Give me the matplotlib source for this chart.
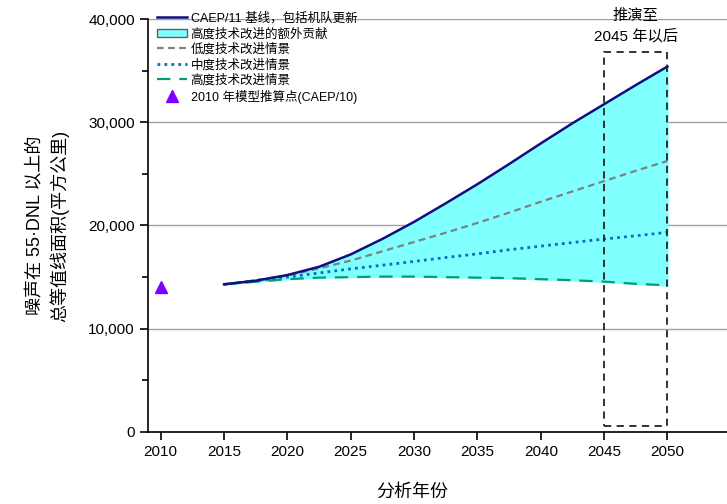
import matplotlib.pyplot as plt
from matplotlib.lines import Line2D
from matplotlib.patches import Patch, Rectangle
from matplotlib.ticker import MultipleLocator, FuncFormatter

plt.rcParams['font.family'] = ['Liberation Sans', 'Noto Sans CJK SC', 'DejaVu Sans']

# values (km^2), every 2.5 years
years = [2015, 2017.5, 2020, 2022.5, 2025, 2027.5, 2030, 2032.5,
         2035, 2037.5, 2040, 2042.5, 2045, 2047.5, 2050]
baseline = [14300, 14650, 15200, 16000, 17200, 18700, 20350, 22150,
            24000, 25950, 27950, 29900, 31750, 33600, 35400]
low_tech = [14300, 14700, 15150, 15850, 16600, 17500, 18400, 19300,
            20250, 21250, 22300, 23300, 24300, 25300, 26250]
mid_tech = [14300, 14650, 15000, 15400, 15800, 16150, 16520, 16900,
            17250, 17650, 18000, 18350, 18690, 19000, 19340]
high_tech = [14300, 14550, 14800, 14950, 15000, 15050, 15050, 15000,
             14950, 14900, 14800, 14700, 14560, 14350, 14200]
point_year = [2010]
point_value = [14000]

fig = plt.figure(figsize=(7.27, 5.04), dpi=100)
ax = fig.add_axes([0.2036, 0.1429, 0.7964, 0.8194])

ax.fill_between(years, high_tech, baseline, color='#80FFFF', zorder=1)
ax.plot(years, baseline, color='#10107f', lw=1.8, zorder=4)
ax.plot(years, low_tech, color='#808080', lw=1.6, ls=(0, (3, 2)), zorder=3)
ax.plot(years, mid_tech, color='#0070C0', lw=2.0, ls=(0, (1, 1.5)), zorder=3)
ax.plot(years, high_tech, color='#00A070', lw=1.6, ls=(0, (6, 4)), zorder=3)
ax.plot(point_year, point_value, ls='none', marker='^', color='#8000FF', ms=8, zorder=5)

# dashed box for the extrapolated period
ax.add_patch(Rectangle((2045, 600), 5, 36200, fill=False, ls=(0, (4, 3)),
                       lw=1.3, ec='#222222', zorder=6))
ax.text(2047.5, 39300, '推演至\n2045 年以后', ha='center', va='center',
        fontsize=11, linespacing=1.45, clip_on=False)

ax.set_xlim(2009, 2054.7)
ax.set_ylim(0, 40000)
ax.set_xticks(range(2010, 2051, 5))
ax.yaxis.set_major_locator(MultipleLocator(10000))
ax.yaxis.set_minor_locator(MultipleLocator(5000))
ax.yaxis.set_major_formatter(FuncFormatter(lambda v, p: f'{int(v):,}'))
ax.tick_params(axis='both', direction='out', length=6, width=1.2, labelsize=11)
ax.tick_params(axis='y', which='minor', direction='out', length=4, width=1.2)
ax.grid(axis='y', color='#a0a0a0', lw=1.0)
ax.set_axisbelow(True)
for s in ['top', 'right']:
    ax.spines[s].set_visible(False)
for s in ['left', 'bottom']:
    ax.spines[s].set_linewidth(1.2)

ax.set_xlabel('分析年份', fontsize=13, x=0.456, labelpad=18)
ax.set_ylabel('噪声在 55·DNL 以上的\n总等值线面积(平方公里)', fontsize=13,
              labelpad=14, linespacing=1.3)

handles = [
    Line2D([], [], color='#10107f', lw=1.8),
    Patch(fc='#80FFFF', ec='#606060'),
    Line2D([], [], color='#808080', lw=1.6, ls=(0, (3, 2))),
    Line2D([], [], color='#0070C0', lw=2.0, ls=(0, (1, 1.5))),
    Line2D([], [], color='#00A070', lw=1.6, ls=(0, (6, 4))),
    Line2D([], [], ls='none', marker='^', color='#8000FF', ms=8),
]
labels = ['CAEP/11 基线，包括机队更新', '高度技术改进的额外贡献', '低度技术改进情景',
          '中度技术改进情景', '高度技术改进情景', '2010 年模型推算点(CAEP/10)']
ax.legend(handles, labels, loc='upper left', bbox_to_anchor=(0.0, 1.037),
          frameon=False, fontsize=9, handlelength=2.4, handletextpad=0.3,
          labelspacing=0.25, borderaxespad=0.3)

fig.savefig('out.png', dpi=100)
